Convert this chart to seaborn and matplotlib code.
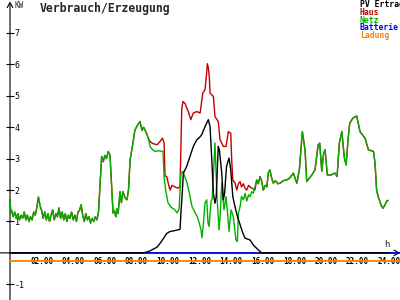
import matplotlib
matplotlib.use("Agg")
import matplotlib.pyplot as plt
import matplotlib.colors as mcolors
import seaborn as sns
import pandas as pd

# ---------------- data (hours, kW) ----------------
# morning part where Haus == Netz (no PV yet)
am_h = [0.0, 0.05, 0.1, 0.2, 0.3, 0.4, 0.5, 0.6, 0.7, 0.8,
        0.9, 1.0, 1.1, 1.2, 1.3, 1.4, 1.5, 1.6, 1.7, 1.8,
        1.9, 2.0, 2.1, 2.2, 2.3, 2.4, 2.5, 2.6, 2.7, 2.8,
        2.9, 3.0, 3.1, 3.2, 3.3, 3.4, 3.5, 3.6, 3.7, 3.8,
        3.9, 4.0, 4.1, 4.2, 4.3, 4.4, 4.5, 4.6, 4.7, 4.8,
        4.9, 5.0, 5.1, 5.2, 5.3, 5.4, 5.5, 5.6,
        5.7, 5.8, 5.9, 6.0, 6.1, 6.22, 6.33, 6.42, 6.52, 6.6,
        6.7, 6.76, 6.84, 6.96, 7.05, 7.15, 7.28, 7.4, 7.5, 7.6,
        7.78, 7.9, 8.05, 8.23, 8.35, 8.45, 8.55, 8.65, 8.75]
am_kw = [1.7, 1.3, 1.35, 1.15, 1.3, 1.1, 1.25, 1.05, 1.2, 1.1,
         1.3, 1.05, 1.2, 1.0, 1.15, 1.05, 1.3, 1.2, 1.45, 1.78,
         1.5, 1.35, 1.1, 1.3, 1.05, 1.25, 1.0, 1.2, 1.37, 1.05,
         1.25, 1.15, 1.43, 1.1, 1.3, 1.05, 1.25, 1.0, 1.2, 1.1,
         1.3, 1.05, 1.2, 1.0, 1.3, 1.35, 1.53, 1.2, 1.0, 1.25,
         1.05, 1.15, 0.95, 1.1, 1.0, 1.15, 1.05, 1.3,
         2.2, 3.07, 2.9, 3.1, 3.0, 3.23, 3.1, 2.2, 1.27, 1.35,
         1.15, 1.4, 1.25, 1.95, 1.6, 1.95, 1.75, 1.69, 2.0, 2.96,
         3.5, 3.9, 4.05, 4.18, 3.9, 4.0, 3.9, 3.8, 3.65]

# daytime Netz
netz_day_h = [8.86, 8.99, 9.18, 9.4, 9.68, 9.75, 9.85, 10.0, 10.2, 10.44,
              10.57, 10.7, 10.82, 10.95, 11.05, 11.2, 11.35, 11.52, 11.7, 11.84,
              11.95, 12.09, 12.15, 12.25, 12.34, 12.45, 12.53, 12.6, 12.72, 12.8,
              12.9, 12.97, 13.05, 13.1, 13.23, 13.3, 13.4, 13.54, 13.67, 13.78,
              13.86, 13.99, 14.13, 14.3, 14.39, 14.45, 14.56, 14.65, 14.77, 14.88,
              14.98, 15.1, 15.19, 15.3, 15.4, 15.5, 15.61]
netz_day_kw = [3.39, 3.3, 3.23, 3.25, 3.23, 2.43, 2.0, 1.59, 1.45, 1.37,
               1.27, 1.4, 2.55, 2.59, 2.45, 2.23, 1.9, 1.47, 1.3, 1.16,
               1.0, 0.73, 0.48, 1.0, 1.59, 1.69, 0.95, 0.84, 1.63, 1.74,
               2.8, 3.5, 2.5, 1.79, 0.73, 1.2, 2.22, 1.37, 1.79, 1.2,
               0.68, 1.37, 1.16, 0.41, 0.36, 1.26, 1.47, 1.8, 1.69, 1.9,
               1.65, 1.85, 1.79, 1.95, 1.9, 2.1, 2.32]

# daytime Haus
haus_day_h = [8.86, 8.99, 9.3, 9.5, 9.65, 9.75, 9.81, 9.92, 10.02, 10.13,
              10.25, 10.44, 10.65, 10.76, 10.87, 10.95, 11.08, 11.28, 11.44, 11.6,
              11.82, 12.03, 12.2, 12.34, 12.44, 12.49, 12.55, 12.61, 12.66, 12.87,
              12.97, 13.18, 13.29, 13.5, 13.67, 13.82, 13.97, 14.03, 14.1, 14.24,
              14.35, 14.45, 14.56, 14.65, 14.77, 14.88, 14.98, 15.1, 15.19, 15.35,
              15.5, 15.61]
haus_day_kw = [3.55, 3.49, 3.44, 3.55, 3.65, 3.5, 2.45, 2.43, 2.2, 2.0,
               2.15, 2.1, 2.06, 2.11, 4.6, 4.82, 4.75, 4.5, 4.24, 4.45,
               4.5, 4.45, 5.09, 5.19, 5.7, 6.02, 5.9, 5.62, 5.09, 4.98,
               4.34, 4.18, 3.6, 3.39, 3.39, 3.86, 3.81, 2.96, 2.32, 2.22,
               2.0, 2.2, 2.27, 2.1, 2.2, 2.05, 2.0, 2.15, 2.1, 2.05,
               2.0, 2.32]

# afternoon / evening where Haus == Netz
pm_h = [15.72, 15.82, 15.92, 16.03, 16.15, 16.25, 16.35, 16.45, 16.55, 16.66,
        16.8, 16.95, 17.09, 17.3, 17.51, 17.7, 17.93, 18.15, 18.31, 18.5,
        18.67, 18.78, 19.1, 19.3, 19.5, 19.6, 19.73, 19.85, 19.94, 20.08,
        20.3, 20.57, 20.7, 20.84, 21.0, 21.16, 21.27, 21.4, 21.5, 21.7,
        21.94, 22.15, 22.47, 22.68, 23.0, 23.1, 23.2, 23.3, 23.5, 23.6,
        23.73, 23.84, 23.94]
pm_kw = [2.2, 2.43, 2.3, 2.0, 2.15, 2.1, 2.55, 2.64, 2.4, 2.22,
         2.3, 2.2, 2.22, 2.3, 2.32, 2.38, 2.54, 2.22, 2.64, 3.86,
         3.28, 2.27, 2.48, 2.64, 3.44, 3.49, 2.6, 3.17, 3.28, 2.48,
         2.48, 2.54, 2.43, 3.49, 3.86, 3.02, 2.8, 3.65, 4.13, 4.29,
         4.36, 3.86, 3.65, 3.28, 3.23, 2.86, 2.0, 1.79, 1.5, 1.42,
         1.53, 1.65, 1.67]

# PV Ertrag
pv_h = [0.0, 8.44, 8.8, 9.07, 9.3, 9.49, 9.7, 9.92, 10.13, 10.34,
        10.6, 10.76, 10.82, 10.9, 10.97, 11.18, 11.39, 11.6, 11.82, 12.0,
        12.13, 12.34, 12.55, 12.66, 12.77, 12.87, 12.97, 13.05, 13.18, 13.25,
        13.4, 13.5, 13.58, 13.7, 13.86, 13.97, 14.1, 14.24, 14.39, 14.56,
        14.72, 14.87, 15.19, 15.4, 15.7, 15.93, 24.0]
pv_kw = [0.0, 0.0, 0.05, 0.12, 0.18, 0.3, 0.45, 0.62, 0.68, 0.7,
         0.73, 0.75, 1.3, 1.9, 2.54, 2.75, 3.07, 3.39, 3.6, 3.68,
         3.76, 4.02, 4.24, 4.02, 2.96, 1.9, 1.58, 1.79, 3.39, 3.28,
         2.54, 1.69, 1.9, 2.75, 3.02, 2.64, 1.79, 1.47, 1.16, 0.9,
         0.65, 0.47, 0.41, 0.25, 0.1, 0.0, 0.0]

batt_h = [0.0, 24.7]
batt_kw = [0.0, 0.0]
ladung_h = [0.0, 24.7]
ladung_kw = [-0.244, -0.244]

series_names = ["Batterie", "Ladung", "Haus", "Netz", "PV Ertrag"]
legend_order = ["PV Ertrag", "Haus", "Netz", "Batterie", "Ladung"]
colors = {"PV Ertrag": "#000000", "Haus": "#c00000", "Netz": "#00b000",
          "Batterie": "#0000ff", "Ladung": "#ff8000"}
xtick_hours = [2, 4, 6, 8, 10, 12, 14, 16, 18, 20, 22, 24]
xtick_labels = ["02:00", "04:00", "06:00", "08:00", "10:00", "12:00",
                "14:00", "16:00", "18:00", "20:00", "22:00", "24:00"]
ytick_vals = [-1, 1, 2, 3, 4, 5, 6, 7]

# ---------------- build table ----------------
frames = []
def add(name, h, kw):
    frames.append(pd.DataFrame({"h": h, "kw": kw, "series": name}))

add("Batterie", batt_h, batt_kw)
add("Ladung", ladung_h, ladung_kw)
add("Haus", am_h + haus_day_h + pm_h, am_kw + haus_day_kw + pm_kw)
add("Netz", am_h + netz_day_h + pm_h, am_kw + netz_day_kw + pm_kw)
add("PV Ertrag", pv_h, pv_kw)
df = pd.concat(frames, ignore_index=True)

# ---------------- plot ----------------
sns.set_style("white")
plt.rcParams["font.family"] = ["DejaVu Sans Mono", "DejaVu Sans"]

fig = plt.figure(figsize=(4, 3), dpi=100)
ax = fig.add_axes([0, 0, 1, 1])
sns.lineplot(data=df, x="h", y="kw", hue="series", hue_order=series_names,
             palette=colors, estimator=None, sort=False, units="series",
             linewidth=1.0, legend=False, ax=ax)

# make the flat Ladung line a bit stronger and above the tick labels
for ln in ax.lines:
    c = mcolors.to_hex(ln.get_color())
    if c == "#ff8000":
        ln.set_linewidth(1.3)
        ln.set_zorder(2.6)
    elif c == "#0000ff":
        ln.set_linewidth(1.2)

ax.set_xlim(-0.633, 24.68)
ax.set_ylim(-1.5, 8.05)
ax.set_xlabel("")
ax.set_ylabel("")
ax.grid(False)

for s in ["top", "left"]:
    ax.spines[s].set_visible(False)
ax.spines["bottom"].set_position(("data", 0))
ax.spines["right"].set_position(("data", 0))
ax.spines["bottom"].set_visible(False)
ax.spines["right"].set_visible(False)

ax.yaxis.tick_right()
ax.set_xticks(xtick_hours)
ax.set_xticklabels(xtick_labels, fontweight="bold")
ax.set_yticks(ytick_vals)
ax.set_yticklabels([str(v) for v in ytick_vals])
ax.tick_params(axis="x", direction="inout", length=5, width=0.8,
               pad=0.5, labelsize=5.5, colors="black")
ax.tick_params(axis="y", direction="inout", length=6, width=0.8,
               pad=0.5, labelsize=6, colors="black")

# axes with arrow heads
arrow = dict(arrowstyle="->,head_length=0.35,head_width=0.2", lw=0.8,
             color="black", shrinkA=0, shrinkB=0)
ax.annotate("", xy=(24.68, 0), xytext=(-0.633, 0), arrowprops=arrow, zorder=1)
ax.annotate("", xy=(0, 8.0), xytext=(0, -1.5), arrowprops=arrow, zorder=1)

fig.text(14 / 400, 1 - 1 / 300, "KW", ha="left", va="top", fontsize=5.5)
fig.text(384 / 400, 1 - 240 / 300, "h", ha="left", va="top", fontsize=6.5)
fig.text(40 / 400, 1 - 2 / 300, "Verbrauch/Erzeugung", ha="left", va="top",
         fontsize=8.3, fontweight="bold")

for i, name in enumerate(legend_order):
    fig.text(360 / 400, 1 - (4.5 + 7.8 * i) / 300, name, ha="left",
             va="center", fontsize=5.9, fontweight="bold", color=colors[name])

fig.savefig("out.png", dpi=100)
